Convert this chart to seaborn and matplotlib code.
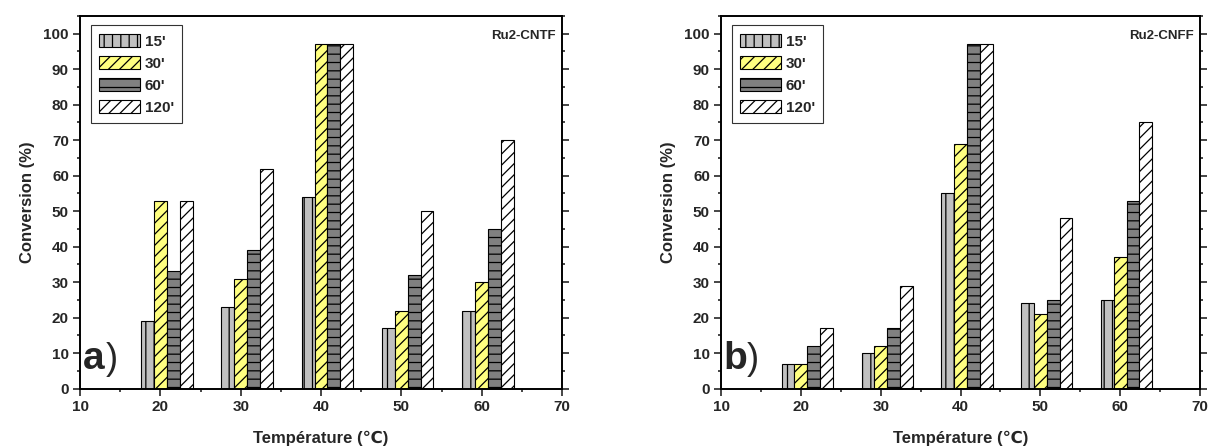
import numpy as np
import seaborn as sns
import matplotlib.pyplot as plt
from matplotlib.ticker import MultipleLocator

sns.set_style("white")
plt.rcParams['font.family'] = ['Liberation Sans', 'DejaVu Sans']
plt.rcParams['hatch.linewidth'] = 0.9

# temperatures (deg C) and reaction times
temps = [20, 30, 40, 50, 60]
times = ["15'", "30'", "60'", "120'"]

# conversion (%) - panel a) Ru2-CNTF
cntf_15 = [19, 23, 54, 17, 22]
cntf_30 = [53, 31, 97, 22, 30]
cntf_60 = [33, 39, 97, 32, 45]
cntf_120 = [53, 62, 97, 50, 70]

# conversion (%) - panel b) Ru2-CNFF
cnff_15 = [7, 10, 55, 24, 25]
cnff_30 = [7, 12, 69, 21, 37]
cnff_60 = [12, 17, 97, 25, 53]
cnff_120 = [17, 29, 97, 48, 75]

colors = ['#c0c0c0', '#ffff80', '#808080', '#ffffff']
hatches = ['||', '///', '--', '///']
offsets = [-1.6, 0.0, 1.6, 3.2]
bw = 1.6

fig = plt.figure(figsize=(12.11, 4.48), dpi=100)
ax1 = fig.add_axes([0.0661, 0.1326, 0.398, 0.8317])
ax2 = fig.add_axes([0.5954, 0.1326, 0.3956, 0.8317])

panels = [
    (ax1, [cntf_15, cntf_30, cntf_60, cntf_120], 'Ru2-CNTF', 'a'),
    (ax2, [cnff_15, cnff_30, cnff_60, cnff_120], 'Ru2-CNFF', 'b'),
]

for ax, series, name, letter in panels:
    x = np.array(temps, dtype=float)
    for vals, lab, c, h, off in zip(series, times, colors, hatches, offsets):
        ax.bar(x + off, vals, width=bw, color=c, edgecolor='black',
               linewidth=0.8, hatch=h, label=lab)
    ax.set_xlim(10, 70)
    ax.set_ylim(0, 105)
    ax.xaxis.set_major_locator(MultipleLocator(10))
    ax.xaxis.set_minor_locator(MultipleLocator(5))
    ax.yaxis.set_major_locator(MultipleLocator(10))
    ax.yaxis.set_minor_locator(MultipleLocator(5))
    ax.tick_params(which='both', direction='out', left=True, bottom=True,
                   width=1.2, labelsize=11, pad=3)
    ax.tick_params(which='major', length=5)
    ax.tick_params(which='minor', length=2.5)
    ax.tick_params(axis='y', which='both', right=True, labelright=False)
    for t in ax.get_xticklabels() + ax.get_yticklabels():
        t.set_fontweight('bold')
    for s in ax.spines.values():
        s.set_linewidth(1.4)
        s.set_color('black')
    ax.set_xlabel('Température (℃)', fontsize=12, fontweight='bold', labelpad=12)
    ax.set_ylabel('Conversion (%)', fontsize=12, fontweight='bold', labelpad=6)
    ax.text(0.988, 0.962, name, transform=ax.transAxes, ha='right', va='top',
            fontsize=9.5, fontweight='bold')
    ax.text(0.006, 0.053, letter, transform=ax.transAxes, ha='left',
            va='baseline', fontsize=28, fontweight='bold')
    ax.text(0.054, 0.053, ')', transform=ax.transAxes, ha='left',
            va='baseline', fontsize=26)
    leg = ax.legend(loc='upper left', bbox_to_anchor=(0.022, 0.975),
                    prop={'weight': 'bold', 'size': 11}, handlelength=2.7,
                    handleheight=1.0, handletextpad=0.3, labelspacing=0.45,
                    borderpad=0.55, borderaxespad=0.0, fancybox=False,
                    frameon=True)
    leg.get_frame().set_edgecolor('black')
    leg.get_frame().set_linewidth(0.8)

fig.savefig('out.png', dpi=100)
